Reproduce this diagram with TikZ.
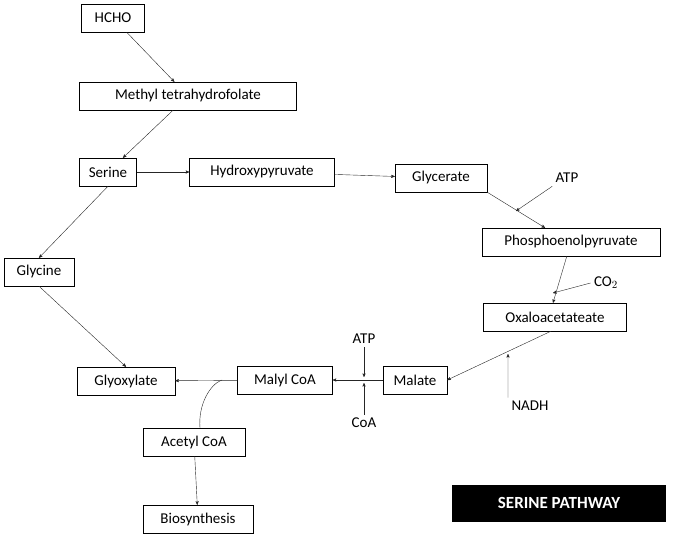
\documentclass[tikz,border=0pt]{standalone}
\usepackage{fontspec}
\setmainfont{Carlito}
\usetikzlibrary{arrows}
\begin{document}
\begin{tikzpicture}[x=1pt,y=-1pt]
      \tikzset{box/.style={draw, thin, inner sep=0pt, minimum height=28pt,
          font=\fontsize{15}{17}\selectfont},
        lbl/.style={font=\fontsize{15}{17}\selectfont},
        flow/.style={->, >=stealth', thin, gray!30!black}
      }
      \useasboundingbox (0,0) rectangle (674,537);
      \node [box, minimum width=63pt] (hcho) at (113,18) {HCHO};
      \node [box, minimum width=217pt] (methyl) at (188,96) {Methyl tetrahydrofolate};
      \node [box, minimum width=57pt] (serine) at (108,172) {Serine};
      \node [box, minimum width=145pt] (hydroxy) at (262,172) {Hydroxypyruvate};
      \node [box, minimum width=92pt] (glycerate) at (441,178) {Glycerate};
      \node [box, minimum width=178pt] (pep) at (571,242) {Phosphoenolpyruvate};
      \node [box, minimum width=143pt] (oxalo) at (555,317) {Oxaloacetateate};
      \node [box, minimum width=64pt] (malate) at (415,380) {Malate};
      \node [box, minimum width=95pt] (malyl) at (285,380) {Malyl CoA};
      \node [box, minimum width=98pt] (glyox) at (126,381) {Glyoxylate};
      \node [box, minimum width=70pt] (glycine) at (39,272) {Glycine};
      \node [box, minimum width=102pt] (acetyl) at (194,442) {Acetyl CoA};
      \node [box, minimum width=110pt] (bio) at (198,519) {Biosynthesis};
      \node [fill=black, text=white, minimum width=214pt, minimum height=37pt,
        font=\fontsize{17}{19}\selectfont\bfseries] (title) at (559,503) {SERINE PATHWAY};
      % side inputs
      \node [lbl] (atp1) at (567,178) {ATP};
      \node [lbl] (co2) at (606,283) {CO$_2$};
      \node [lbl] (nadh) at (530,406) {NADH};
      \node [lbl] (atp2) at (364,339) {ATP};
      \node [lbl] (coa) at (364,423) {CoA};
      \coordinate (j1) at (516,211);
      \coordinate (j2) at (553,293);
      \coordinate (j3) at (508,354);
      \coordinate (j4) at (364,377);
      \coordinate (j5) at (364,383);
      \coordinate (j6) at (222,380);

      \draw [flow] (hcho) -- (methyl);
      \draw [flow] (methyl) -- (serine);
      \draw [flow] (serine) -- (hydroxy);
      \draw [flow] (hydroxy) -- (glycerate);
      \draw [flow] (glycerate.south east) -- (pep.north west -| 545,0);
      \draw [flow] (pep) -- (oxalo.north -| 553,0);
      \draw [flow] (oxalo.south -| 551,0) -- (malate.east);
      \draw [flow] (malate) -- (malyl);
      \draw [flow] (malyl) -- (glyox);
      \draw [flow] (serine.south) -- (glycine.north);
      \draw [flow] (glycine.south) -- (glyox.north);
      \draw [flow] (acetyl) -- (bio);
      \draw [flow] (atp1.south west) -- (j1);
      \draw [flow] (co2.west) -- (j2);
      \draw [flow] (nadh.north west) -- (j3);
      \draw [flow] (atp2) -- (j4);
      \draw [flow] (coa) -- (j5);
      \draw [gray!30!black] (acetyl.north -| 200,0) .. controls (198,405) and (210,384) .. (j6);

    \end{tikzpicture}
\end{document}
